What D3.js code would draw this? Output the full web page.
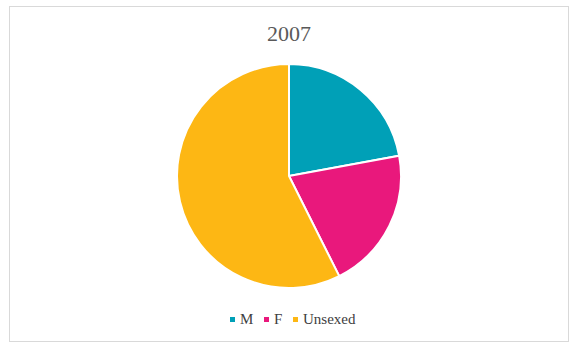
<!DOCTYPE html>
<html>
<head>
<meta charset="utf-8">
<script src="https://cdn.jsdelivr.net/npm/d3@7"></script>
<style>
  body { margin: 0; background: #fff; }
</style>
</head>
<body>
<div class="pie"></div>
<script>
// values (share of the pie, %)
const categories = ["M", "F", "Unsexed"]
const values = [22.1, 20.5, 57.4]
const colors = ["#00A0B7", "#E9187C", "#FDB714"]
const title = "2007"

let width = 579
let height = 350

let svg = d3.select(".pie")
    .append("svg")
    .attr("width", width)
    .attr("height", height)

// chart frame
svg.append("rect")
    .attr("x", 9.5)
    .attr("y", 6.5)
    .attr("width", 559)
    .attr("height", 335)
    .attr("fill", "#fff")
    .attr("stroke", "#d9d9d9")

svg.append("text")
    .attr("x", 289)
    .attr("y", 41)
    .attr("text-anchor", "middle")
    .style("font-family", "'Liberation Serif', 'DejaVu Serif', serif")
    .style("font-size", "22px")
    .style("fill", "#595959")
    .text(title)

let radius = 112
let data = categories.map((c, i) => ({name: c, value: values[i]}))

let color = d3.scaleOrdinal()
    .domain(categories)
    .range(colors)

let pie = d3.pie()
    .sort(null)
    .value(d => d.value)

let arc = d3.arc()
    .innerRadius(0)
    .outerRadius(radius)

let g = svg.append("g")
    .attr("transform", "translate(289,176)")

g.selectAll("path")
    .data(pie(data))
    .enter()
    .append("path")
    .attr("d", arc)
    .attr("fill", d => color(d.data.name))
    .attr("stroke", "#fff")
    .style("stroke-width", "2px")

// legend
let legendX = [230, 264, 293]
let legend = svg.selectAll(".legend")
    .data(categories)
    .enter()
    .append("g")
    .attr("transform", (d, i) => "translate(" + legendX[i] + ",320)")

legend.append("rect")
    .attr("x", 0)
    .attr("y", -3)
    .attr("width", 5)
    .attr("height", 5)
    .attr("fill", d => color(d))

legend.append("text")
    .attr("x", 10)
    .attr("y", 3.5)
    .style("font-family", "'Liberation Serif', 'DejaVu Serif', serif")
    .style("font-size", "15px")
    .style("fill", "#404040")
    .text(d => d)
</script>
</body>
</html>
